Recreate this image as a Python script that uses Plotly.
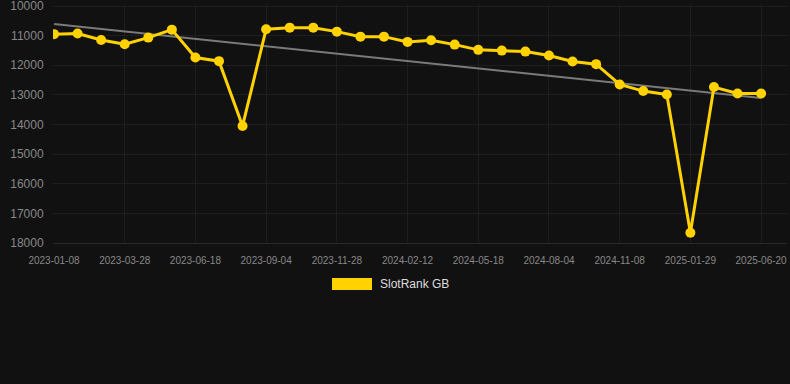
import numpy as np
import plotly.graph_objects as go

dates = [
    "2023-01-08", "2023-02-03", "2023-03-01", "2023-03-28", "2023-04-25", "2023-05-22",
    "2023-06-18", "2023-07-14", "2023-08-09", "2023-09-04", "2023-10-02", "2023-10-30",
    "2023-11-28", "2023-12-23", "2024-01-18", "2024-02-12", "2024-03-15", "2024-04-16",
    "2024-05-18", "2024-06-13", "2024-07-09", "2024-08-04", "2024-09-05", "2024-10-07",
    "2024-11-08", "2024-12-05", "2025-01-02", "2025-01-29", "2025-03-16", "2025-05-01",
    "2025-06-20",
]
rank = [
    10950, 10930, 11145, 11290, 11067, 10798, 11741, 11862, 14050, 10785,
    10731, 10731, 10865, 11034, 11034, 11212, 11155, 11303, 11481, 11505,
    11539, 11673, 11875, 11963, 12650, 12872, 12987, 17653, 12737, 12953,
    12953,
]
tick_labels = dates[::3]
y_ticks = [10000, 11000, 12000, 13000, 14000, 15000, 16000, 17000, 18000]
series_name = "SlotRank GB"

idx = np.arange(len(rank))
coef = np.polyfit(idx, np.array(rank, dtype=float), 1)
trend = np.polyval(coef, idx)

GOLD = "#FFD200"
fig = go.Figure()
fig.add_trace(go.Scatter(
    x=dates, y=trend, mode="lines",
    line=dict(color="#7a7a7a", width=2),
    showlegend=False, hoverinfo="skip",
))
fig.add_trace(go.Scatter(
    x=dates, y=rank, mode="lines+markers",
    line=dict(color=GOLD, width=3),
    marker=dict(color=GOLD, size=10),
    showlegend=False, name=series_name,
))

W, H = 790, 384
ML, MR, MT, MB = 53, 3, 4, 141
ppc = 23.57
left_pad = 1 / ppc
width_px = W - ML - MR
plot_h = H - MT - MB
units_per_px = 8000 / 237.0
y_top = 10000 - 2 * units_per_px


def px_x(p):
    return (p - ML) / width_px


def px_y(p):
    return (H - MB - p) / plot_h


# legend swatch + label (drawn in paper space)
fig.add_shape(
    type="rect", xref="paper", yref="paper",
    x0=px_x(332), x1=px_x(372), y0=px_y(290), y1=px_y(278),
    fillcolor=GOLD, line=dict(width=0),
)
fig.add_annotation(
    text=series_name, xref="paper", yref="paper",
    x=px_x(378), y=px_y(284), xanchor="left", yanchor="middle",
    showarrow=False, font=dict(size=12, color="#dddddd"),
)

fig.update_layout(
    width=W, height=H,
    paper_bgcolor="#111111", plot_bgcolor="#111111",
    margin=dict(l=ML, r=MR, t=MT, b=MB),
    font=dict(family="Liberation Sans, Arial, sans-serif", color="#888888"),
    xaxis=dict(
        type="category",
        categoryorder="array", categoryarray=dates,
        range=[-left_pad, -left_pad + width_px / ppc],
        tickmode="array", tickvals=tick_labels, ticktext=tick_labels,
        tickfont=dict(size=10, color="#888888"),
        showgrid=True, gridcolor="#1e1e1e", gridwidth=1,
        showline=True, linecolor="#2a2a2a",
        ticks="outside", ticklen=8, tickcolor="rgba(0,0,0,0)",
        zeroline=False, automargin=False,
    ),
    yaxis=dict(
        range=[18000, y_top],
        tickmode="array", tickvals=y_ticks, tickformat="d",
        tickfont=dict(size=12, color="#888888"),
        ticklabeloverflow="allow",
        showgrid=True, gridcolor="#1e1e1e", gridwidth=1,
        ticks="outside", ticklen=6, tickcolor="rgba(0,0,0,0)",
        zeroline=False, showline=False, automargin=False,
    ),
    showlegend=False,
)
fig.write_html(
    "out.html",
    config={"displayModeBar": False},
    post_script="document.body.style.margin='0';document.body.style.background='#111111';",
)
